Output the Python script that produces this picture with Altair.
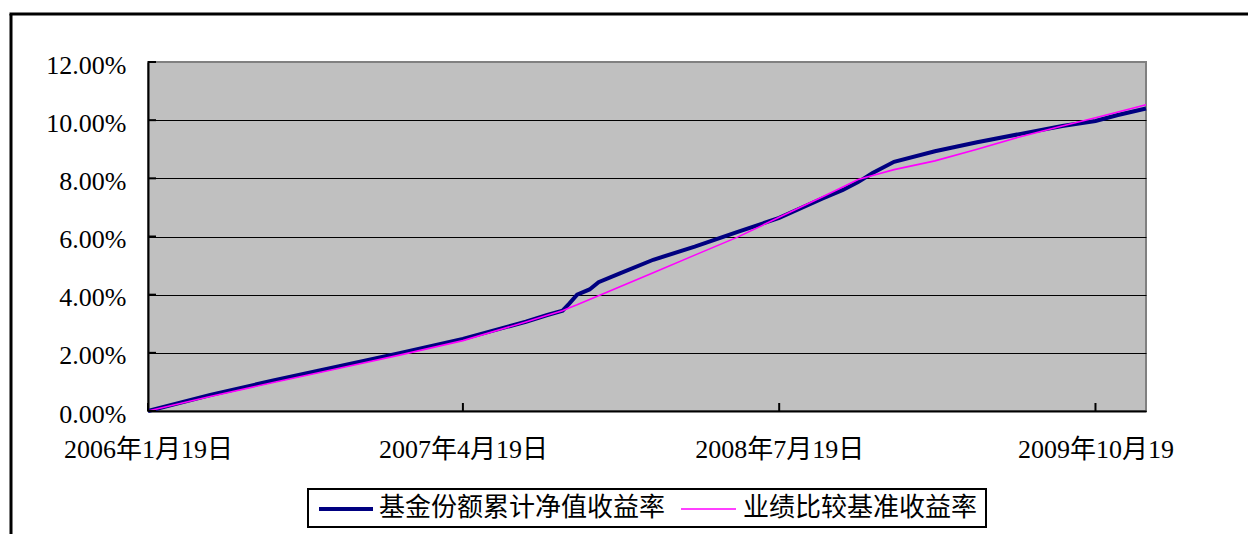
import altair as alt
import pandas as pd

# ---- data ----
dates = ["2006-01-19", "2006-04-19", "2006-07-19", "2006-10-19",
         "2007-01-19", "2007-04-19", "2007-07-19", "2007-08-19", "2007-09-10",
         "2007-09-20", "2007-10-01", "2007-10-19", "2007-11-01", "2007-12-01",
         "2008-01-19", "2008-03-19", "2008-05-19", "2008-07-19", "2008-09-19",
         "2008-10-19", "2008-11-10", "2008-12-01",
         "2009-01-01", "2009-03-01", "2009-05-01", "2009-07-01", "2009-09-01",
         "2009-10-19", "2009-11-19", "2009-12-31"]
fund = [0.00, 0.55, 1.05, 1.52, 2.00, 2.48, 3.07, 3.30, 3.45, 3.70,
        4.00, 4.18, 4.43, 4.72, 5.20, 5.65, 6.15, 6.64, 7.30, 7.60,
        7.87, 8.18, 8.57, 8.93, 9.24, 9.52, 9.80, 9.97, 10.17, 10.40]
bench = [0.00, 0.50, 0.98, 1.45, 1.93, 2.42, 3.06, 3.29, 3.45, 3.55,
         3.65, 3.83, 3.96, 4.26, 4.75, 5.36, 5.97, 6.66, 7.36, 7.70,
         7.96, 8.10, 8.30, 8.60, 9.00, 9.42, 9.80, 10.08, 10.27, 10.53]

series_names = ["基金份额累计净值收益率", "业绩比较基准收益率"]
series_colors = ["#000080", "#FF00FF"]
series_widths = [4, 1.6]

y_ticks = [0.0, 0.02, 0.04, 0.06, 0.08, 0.10, 0.12]
x_tick_dates = ["2006-01-19", "2007-04-19", "2008-07-19", "2009-10-19"]
x_tick_labels = ["2006年1月19日", "2007年4月19日", "2008年7月19日", "2009年10月19"]
x_domain = ["2006-01-19", "2009-12-31"]

FONT = "'Liberation Serif', 'Noto Sans CJK SC'"
CJK = "'Noto Sans CJK SC'"

rows = []
for d, f, b in zip(dates, fund, bench):
    rows.append({"date": pd.Timestamp(d), "series": series_names[0], "value": f / 100})
    rows.append({"date": pd.Timestamp(d), "series": series_names[1], "value": b / 100})
df = pd.DataFrame(rows)


def dt(s):
    t = pd.Timestamp(s)
    return alt.DateTime(year=t.year, month=t.month, date=t.day)


label_expr = ""
for d, lab in zip(x_tick_dates[:-1], x_tick_labels[:-1]):
    label_expr += f"year(datum.value) == {pd.Timestamp(d).year} ? '{lab}' : "
label_expr += f"'{x_tick_labels[-1]}'"

x_scale = alt.Scale(domain=[dt(x_domain[0]), dt(x_domain[1])])
y_scale = alt.Scale(domain=[0, 0.12], nice=False)

x_axis = alt.Axis(values=[dt(d) for d in x_tick_dates], labelExpr=label_expr,
                  grid=False, ticks=False, domainColor="black", domainWidth=2,
                  labelPadding=25, labelFont=FONT, labelFontSize=26,
                  labelColor="black", title=None, labelFlush=False,
                  labelOverlap=False)
y_axis = alt.Axis(values=y_ticks, format=".2%", grid=True,
                  gridColor={"condition": {"test": "datum.value >= 0.119", "value": "#808080"},
                             "value": "black"},
                  gridWidth=1.2, ticks=False, domainColor="black", domainWidth=2,
                  labelPadding=22, labelOffset=3, labelFont=FONT, labelFontSize=26,
                  labelColor="black", title=None)

color_scale = alt.Scale(domain=series_names, range=series_colors)
width_scale = alt.Scale(domain=series_names, range=series_widths)

base = alt.Chart(df).encode(
    x=alt.X("date:T", scale=x_scale, axis=x_axis),
    y=alt.Y("value:Q", scale=y_scale, axis=y_axis),
    color=alt.Color("series:N", scale=color_scale, legend=None),
    strokeWidth=alt.StrokeWidth("series:N", scale=width_scale, legend=None),
)
fund_line = base.mark_line().transform_filter(alt.datum.series == series_names[0])
bench_line = base.mark_line().transform_filter(alt.datum.series == series_names[1])

# inward tick marks (Excel style)
xt = pd.DataFrame({"date": [pd.Timestamp(d) for d in x_tick_dates]})
x_ticks_layer = alt.Chart(xt).mark_rule(color="black", strokeWidth=2).encode(
    x=alt.X("date:T", scale=x_scale), y=alt.value(349), y2=alt.value(341))
yt = pd.DataFrame({"v": y_ticks})
y_ticks_layer = alt.Chart(yt).mark_rule(color="black", strokeWidth=2).encode(
    y=alt.Y("v:Q", scale=y_scale), x=alt.value(0), x2=alt.value(8))

# outer chart-area frame (left and top edges)
one = pd.DataFrame({"a": [0]})
frame_left = alt.Chart(one).mark_rule(color="black", strokeWidth=3).encode(
    x=alt.value(-137), y=alt.value(-48), y2=alt.value(472))
frame_top = alt.Chart(one).mark_rule(color="black", strokeWidth=3).encode(
    y=alt.value(-48), x=alt.value(-138.5), x2=alt.value(1100))

# legend box below the plot
legend_box = alt.Chart(one).mark_rect(fill="white", stroke="black", strokeWidth=2).encode(
    x=alt.value(160), x2=alt.value(838), y=alt.value(427), y2=alt.value(465))
legend_layers = [legend_box]
sym_x = [(171, 225), (533, 588)]
txt_x = [231, 595]
for name, col, w, (sx1, sx2), tx in zip(series_names, series_colors, series_widths, sym_x, txt_x):
    item = pd.DataFrame({"series": [name]})
    legend_layers.append(
        alt.Chart(item).mark_rule(color=col, strokeWidth=w).encode(
            x=alt.value(sx1), x2=alt.value(sx2), y=alt.value(447)))
    legend_layers.append(
        alt.Chart(item).mark_text(align="left", baseline="middle", font=CJK,
                                  fontSize=26, color="black").encode(
            text="series:N", x=alt.value(tx), y=alt.value(446)))

chart = alt.layer(
    frame_left, frame_top, fund_line, bench_line, x_ticks_layer, y_ticks_layer,
    *legend_layers
).properties(
    width=998, height=349,
    padding={"left": 0, "top": 4, "right": 0, "bottom": 0},
    background="white",
).configure_view(
    fill="#C0C0C0", stroke="#808080", strokeWidth=2
)

chart.save("out.html", embed_options={"renderer": "svg", "actions": False})
